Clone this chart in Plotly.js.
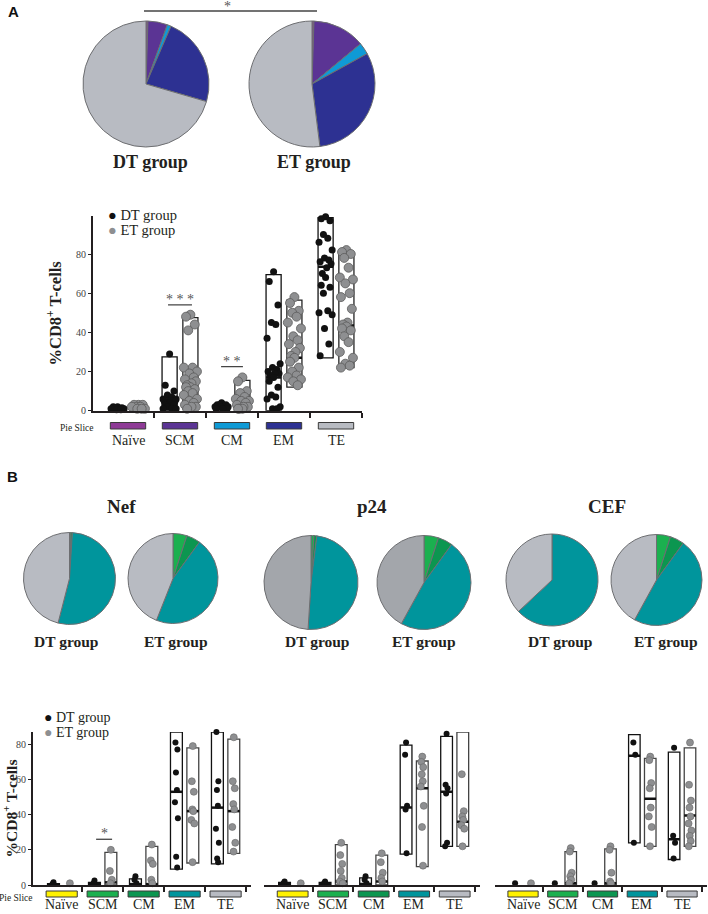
<!DOCTYPE html>
<html>
<head>
<meta charset="utf-8">
<script src="https://cdn.plot.ly/plotly-3.0.1.min.js"></script>
<style>html,body{margin:0;padding:0;background:#fff}#chart{width:708px;height:914px}</style>
</head>
<body>
<div id="chart"></div>
<script>
// categories (pie slices / x groups)
var cats = ['Naïve', 'SCM', 'CM', 'EM', 'TE'];

// panel A pies (% of CD8+ T-cells)
var pieA_DT = [0.5, 5, 1, 23, 70.5];
var pieA_ET = [0.5, 13.5, 3, 31, 52];

// panel A points
var dtA = [
  [2, 2, 1.5, 1.5, 1, 1, 1, 0.5, 0.5],
  [29, 13, 10, 8, 7, 6, 6, 5, 5, 5, 5, 4, 4, 4, 3, 3, 2, 1, 1, 1],
  [4, 3, 3, 3, 2, 2, 2, 2, 1, 1, 1, 1],
  [71, 66, 54, 45, 44, 37, 24, 22, 21, 20, 19, 19, 18, 17, 15, 12, 8, 7, 6, 2, 1, 1],
  [99, 98, 97, 90, 88, 86, 82, 78, 77, 76, 75, 73, 70, 68, 64, 63, 60, 51, 50, 49, 42, 34, 28]
];
var etA = [
  [3, 3, 3, 2, 2, 2, 1, 1, 1],
  [49, 48, 44, 41, 22, 22, 20, 19, 17, 16, 15, 14, 13, 12, 12, 11, 10, 9, 8, 6, 5, 4, 3, 2, 2, 1],
  [17, 15, 10, 9, 7, 6, 5, 5, 4, 3, 2, 2, 1, 1, 1],
  [58, 55, 51, 50, 48, 45, 42, 38, 36, 34, 32, 30, 28, 27, 25, 22, 20, 18, 17, 16, 15, 13],
  [82, 81, 80, 78, 73, 68, 67, 65, 60, 58, 52, 45, 44, 43, 42, 41, 38, 35, 30, 27, 24, 23, 22]
];
// panel A range boxes
var dtAMin = [0, 0, 0, 0, 27];
var dtAMax = [1.5, 27.5, 2.5, 69.5, 98.5];
var dtAMed = [1, 4, 1, 17, 73.5];
var etAMin = [0, 1, 0, 12, 22];
var etAMax = [3, 47.5, 15.5, 56.5, 80.5];
var etAMed = [1.5, 11, 1, 27, 43.5];

// panel B pies
var pieNef_DT = [0, 0.5, 0.5, 53, 46];
var pieNef_ET = [0, 5, 5, 46, 44];
var pieP24_DT = [0, 1, 1, 49, 49];
var pieP24_ET = [0, 5, 5, 48, 42];
var pieCEF_DT = [0, 0, 0, 63, 37];
var pieCEF_ET = [0, 5, 5, 48, 42];

// panel B points
var dtNef = [[1.5, 0.5], [2.5, 1], [5, 3, 1], [88, 81, 77, 64, 54, 47, 38, 16, 10], [88, 87, 59, 54, 45, 32, 24, 15, 13]];
var etNef = [[1], [20, 8, 3, 1], [23, 14, 12, 3, 1], [79, 59, 53, 43, 42, 37, 35, 13], [84, 59, 55, 46, 43, 33, 24, 19]];
var dtP24 = [[2, 1], [2, 1], [5, 3, 1], [81, 74, 45, 43, 18], [86, 57, 55, 52, 24, 22]];
var etP24 = [[1], [24, 17, 12, 8, 4, 2, 1], [18, 13, 7, 4, 2], [73, 70, 67, 63, 59, 56, 45, 33, 11], [89, 63, 42, 39, 37, 34, 32, 22]];
var dtCEF = [[1], [1], [1], [88, 81, 74, 24], [78, 28, 24, 15]];
var etCEF = [[1], [21, 19, 7, 5, 3, 1], [22, 20, 7, 2, 1], [73, 71, 58, 55, 44, 39, 33, 22], [81, 57, 48, 44, 39, 35, 31, 28, 25, 22]];

// panel B range boxes (null = no box drawn)
var dtNefMin = [0, 0, 0, 9, 12],       dtNefMax = [0.8, 1.5, 3.5, 87, 87],   dtNefMed = [0.3, 0.5, 0.5, 53, 44];
var etNefMin = [null, 0, 0, 12.5, 18], etNefMax = [null, 18.5, 22, 78, 83],  etNefMed = [null, 1.5, 0.5, 42, 42];
var dtP24Min = [0, 0, 0, 17.5, 22],    dtP24Max = [1.5, 1.5, 4, 79.5, 84.5], dtP24Med = [0.5, 0.5, 0.5, 44, 53];
var etP24Min = [null, 0, 0, 10.5, 22], etP24Max = [null, 23, 17, 70.5, 87],  etP24Med = [null, 2, 2, 55, 36];
var dtCEFMin = [null, null, null, 24, 14.5], dtCEFMax = [null, null, null, 85.5, 75.5], dtCEFMed = [null, null, null, 73.5, 26];
var etCEFMin = [null, 0, 0, 22, 22],   etCEFMax = [null, 19, 20.5, 72, 78],  etCEFMed = [null, 1, 1, 49, 39.5];

var colorsA = ['#8e3a96', '#5b3494', '#0f9ad6', '#2d3192', '#b8bbc2'];
var colorsB = ['#fff200', '#1bb04f', '#0c9650', '#00959c', '#b8bbc2'];
var colorsBdark = ['#fff200', '#1bb04f', '#0c9650', '#00959c', '#a3a6ab'];

var SERIF = 'Liberation Serif, Times New Roman, serif';
var INK = '#231f20';
var W = 708, H = 914;
function px(x) { return x / W; }
function py(y) { return 1 - y / H; }

// small fixed spread pattern so overlapping points stay visible
var J = [0, -0.6, 0.6, -0.3, 0.3, -0.9, 0.9, -0.15, 0.45, -0.75, 0.75, 0.15, -0.45];

function pieTrace(values, colors, cx, cy, r) {
  return {
    type: 'pie', values: values, labels: cats, sort: false,
    direction: 'clockwise', rotation: 0, textinfo: 'none',
    marker: {colors: colors, line: {color: '#6d6e71', width: 1}},
    showlegend: false,
    domain: {x: [px(cx - r), px(cx + r)], y: [py(cy + r), py(cy - r)]}
  };
}

function boxTraces(xa, ya, mins, maxs, meds, off, w, lineColor) {
  var x = [], base = [], h = [], mx = [], my = [];
  for (var i = 0; i < cats.length; i++) {
    if (maxs[i] === null) continue;
    x.push(i + off); base.push(mins[i]); h.push(maxs[i] - mins[i]);
    mx.push(i + off - w / 2, i + off + w / 2, null);
    my.push(meds[i], meds[i], null);
  }
  return [
    {type: 'bar', x: x, y: h, base: base, width: w, xaxis: xa, yaxis: ya,
     marker: {color: '#ffffff', line: {color: lineColor, width: 1.3}}, showlegend: false, hoverinfo: 'skip'},
    {type: 'scatter', mode: 'lines', x: mx, y: my, xaxis: xa, yaxis: ya,
     line: {color: '#111', width: 2.5}, showlegend: false, hoverinfo: 'skip', cliponaxis: false}
  ];
}

function dotTrace(xa, ya, groups, off, spread, marker, name) {
  var x = [], y = [];
  groups.forEach(function (g, i) {
    g.forEach(function (v, j) {
      x.push(i + off + J[j % J.length] * spread);
      y.push(v);
    });
  });
  return {type: 'scatter', mode: 'markers', x: x, y: y, xaxis: xa, yaxis: ya, name: name,
          marker: marker, showlegend: false, cliponaxis: false};
}

var dtMarkA = {color: '#111', size: 7};
var etMarkA = {color: '#8e8f91', size: 9, line: {color: '#5c5c5c', width: 0.8}};
var dtMarkB = {color: '#111', size: 6};
var etMarkB = {color: '#8e8f91', size: 7, line: {color: '#666', width: 0.6}};

var data = [
  pieTrace(pieA_DT, colorsA, 146, 84, 63),
  pieTrace(pieA_ET, colorsA, 312, 84, 63),
  pieTrace(pieNef_DT, colorsB, 69.5, 578.5, 46),
  pieTrace(pieNef_ET, colorsB, 173, 578.5, 45),
  pieTrace(pieP24_DT, colorsBdark, 311, 582.5, 47),
  pieTrace(pieP24_ET, colorsBdark, 424, 582.5, 47),
  pieTrace(pieCEF_DT, colorsB, 552, 580, 46),
  pieTrace(pieCEF_ET, colorsB, 656.5, 580, 45.5)
];

data = data.concat(
  boxTraces('x', 'y', dtAMin, dtAMax, dtAMed, -0.2, 0.29, '#111'),
  boxTraces('x', 'y', etAMin, etAMax, etAMed, 0.2, 0.29, '#222'),
  boxTraces('x2', 'y2', dtNefMin, dtNefMax, dtNefMed, -0.2, 0.29, '#111'),
  boxTraces('x2', 'y2', etNefMin, etNefMax, etNefMed, 0.2, 0.29, '#444'),
  boxTraces('x3', 'y3', dtP24Min, dtP24Max, dtP24Med, -0.2, 0.29, '#111'),
  boxTraces('x3', 'y3', etP24Min, etP24Max, etP24Med, 0.2, 0.29, '#444'),
  boxTraces('x4', 'y4', dtCEFMin, dtCEFMax, dtCEFMed, -0.2, 0.29, '#111'),
  boxTraces('x4', 'y4', etCEFMin, etCEFMax, etCEFMed, 0.2, 0.29, '#444'),
  [
    dotTrace('x', 'y', dtA, -0.2, 0.14, dtMarkA, 'DT group'),
    dotTrace('x', 'y', etA, 0.2, 0.14, etMarkA, 'ET group'),
    dotTrace('x2', 'y2', dtNef, -0.2, 0.04, dtMarkB, 'DT group'),
    dotTrace('x2', 'y2', etNef, 0.2, 0.04, etMarkB, 'ET group'),
    dotTrace('x3', 'y3', dtP24, -0.2, 0.04, dtMarkB, 'DT group'),
    dotTrace('x3', 'y3', etP24, 0.2, 0.04, etMarkB, 'ET group'),
    dotTrace('x4', 'y4', dtCEF, -0.2, 0.04, dtMarkB, 'DT group'),
    dotTrace('x4', 'y4', etCEF, 0.2, 0.04, etMarkB, 'ET group')
  ]
);

function xAxis(anchor, x0, x1, range) {
  return {
    domain: [px(x0), px(x1)], range: range, anchor: anchor,
    showline: true, linecolor: INK, linewidth: 2, zeroline: false, showgrid: false,
    tickvals: [0.5, 1.5, 2.5, 3.5, 4.5], ticks: 'outside', ticklen: 5, tickwidth: 2, tickcolor: INK,
    showticklabels: false, fixedrange: true
  };
}
function yAxis(anchor, top, bottom, range, show, titleSize, standoff) {
  var ax = {
    domain: [py(bottom), py(top)], range: range, anchor: anchor,
    zeroline: false, showgrid: false, fixedrange: true,
    showline: show, linecolor: INK, linewidth: 2,
    showticklabels: show, tickvals: [0, 20, 40, 60, 80],
    ticks: show ? 'outside' : '', ticklen: 3, tickcolor: INK,
    tickfont: {family: SERIF, size: 10, color: '#444'}
  };
  if (show) {
    ax.title = {text: '%CD8<sup>+</sup> T-cells', standoff: standoff,
                font: {family: SERIF, size: titleSize, color: INK, weight: 'bold'}};
  }
  return ax;
}

var shapes = [], annotations = [];

function ann(text, x, y, size, opts) {
  var a = {text: text, x: x, y: y, xref: 'paper', yref: 'paper', showarrow: false,
           xanchor: 'center', yanchor: 'middle',
           font: {family: SERIF, size: size, color: INK}};
  for (var k in opts) a[k] = opts[k];
  annotations.push(a);
}

// category strip under each scatter panel
function strip(xref, colors, halfW, yTop, yBot, yLab) {
  cats.forEach(function (c, i) {
    shapes.push({type: 'rect', xref: xref, yref: 'paper', x0: i - halfW, x1: i + halfW,
                 y0: py(yBot), y1: py(yTop), fillcolor: colors[i], line: {color: '#3a3a3a', width: 1}});
    annotations.push({text: c, xref: xref, yref: 'paper', x: i, y: py(yLab), showarrow: false,
                      xanchor: 'center', yanchor: 'middle',
                      font: {family: SERIF, size: 14, color: INK}});
  });
}
strip('x', colorsA, 0.34, 422.5, 429, 440);
strip('x2', colorsB, 0.38, 891, 897, 904);
strip('x3', colorsB, 0.38, 891, 897, 904);
strip('x4', colorsB, 0.38, 891, 897, 904);
ann('Pie Slice', px(77), py(428), 9.5, {});
ann('Pie Slice', px(16), py(898), 9.5, {});

// significance marks
function sig(xref, yref, x0, x1, y, stars) {
  shapes.push({type: 'line', xref: xref, yref: yref, x0: x0, x1: x1, y0: y, y1: y,
               line: {color: '#444', width: 1.3}});
  annotations.push({text: stars, xref: xref, yref: yref, x: (x0 + x1) / 2, y: y,
                    xanchor: 'center', yanchor: 'bottom',
                    yshift: -4, showarrow: false, font: {family: SERIF, size: 14, color: '#555'}});
}
sig('x', 'y', 0.77, 1.23, 54, '* * *');
sig('x', 'y', 1.79, 2.21, 22.5, '* *');
sig('x', 'y', 3.79, 4.23, 103, '* * *');
sig('x2', 'y2', 0.84, 1.23, 26, '*');
shapes.push({type: 'line', xref: 'paper', yref: 'paper', x0: px(144), x1: px(317), y0: py(11), y1: py(11),
             line: {color: '#444', width: 1.3}});
ann('*', px(227), py(6), 14, {font: {family: SERIF, size: 14, color: '#555'}});

// panel letters and titles
ann('A', px(13), py(11), 15, {font: {family: 'Liberation Sans, Arial, sans-serif', size: 15, color: '#111', weight: 'bold'}});
ann('B', px(12), py(476), 15, {font: {family: 'Liberation Sans, Arial, sans-serif', size: 15, color: '#111', weight: 'bold'}});
function bold(text, x, y, size) {
  ann(text, px(x), py(y), size, {font: {family: SERIF, size: size, color: INK, weight: 'bold'}});
}
bold('DT group', 150, 162, 18);
bold('ET group', 314, 162, 18);
bold('Nef', 121, 507, 19);
bold('p24', 372, 507, 19);
bold('CEF', 607, 507, 19);
bold('DT group', 66, 641, 15.5);
bold('ET group', 176, 641, 15.5);
bold('DT group', 317, 641, 15.5);
bold('ET group', 424, 641, 15.5);
bold('DT group', 560, 641, 15.5);
bold('ET group', 666, 641, 15.5);

// legends
function legendRow(x, y, dot, label, size) {
  ann('<span style="color:' + dot + '">●</span> ' + label, px(x), py(y), size, {xanchor: 'left'});
}
legendRow(106, 215, '#111', 'DT group', 14.5);
legendRow(106, 230, '#8e8f91', 'ET group', 14.5);
legendRow(42, 717, '#111', 'DT group', 14);
legendRow(42, 732, '#8e8f91', 'ET group', 14);

var layout = {
  width: W, height: H,
  margin: {l: 0, r: 0, t: 0, b: 0},
  paper_bgcolor: '#fff', plot_bgcolor: 'rgba(0,0,0,0)',
  barmode: 'overlay', showlegend: false,
  font: {family: SERIF, color: INK},
  xaxis: xAxis('y', 93, 362, [-0.673, 4.5]),
  yaxis: yAxis('x', 216, 410.7, [0, 99.4], true, 16.5, 10),
  xaxis2: xAxis('y2', 33, 251, [-0.7, 4.62]),
  yaxis2: yAxis('x2', 732, 885, [0, 87], true, 15.5, 4),
  xaxis3: xAxis('y3', 264.3, 479.8, [-0.7, 4.62]),
  yaxis3: yAxis('x3', 732, 885, [0, 87], false),
  xaxis4: xAxis('y4', 495.2, 706.7, [-0.7, 4.62]),
  yaxis4: yAxis('x4', 732, 885, [0, 87], false),
  shapes: shapes,
  annotations: annotations
};

Plotly.newPlot('chart', data, layout, {displayModeBar: false, staticPlot: true});
</script>
</body>
</html>
